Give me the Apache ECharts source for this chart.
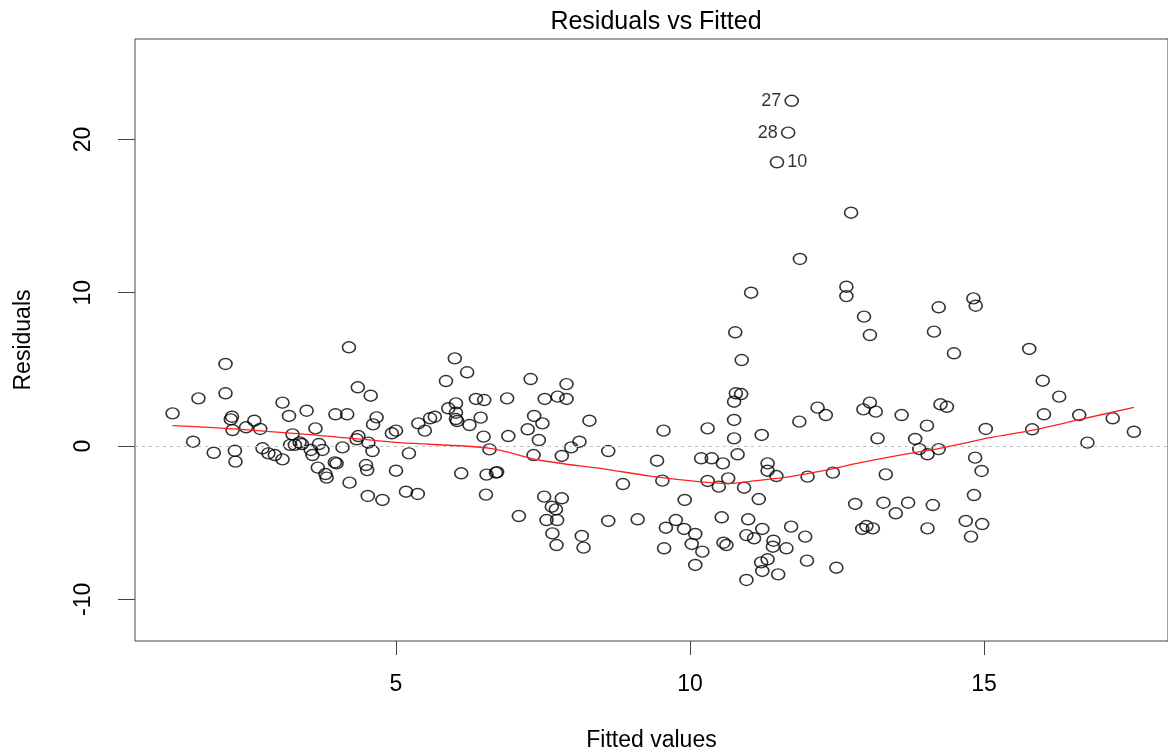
<!DOCTYPE html>
<html>
<head>
<meta charset="utf-8">
<script src="https://cdn.jsdelivr.net/npm/echarts@6/dist/echarts.min.js"></script>
<style>
html,body{margin:0;padding:0;background:#fff;}
#chart{width:1168px;height:754px;}
</style>
</head>
<body>
<div id="chart"></div>
<script>
// ---- data ----
const fittedValues = [
1.20,1.55,1.64,1.90,2.10,2.10,2.21,2.19,2.22,2.26,2.27,2.45,2.59,2.69,2.73,2.83,2.94,3.07,3.07,3.18,
3.24,3.20,3.28,3.36,3.40,3.48,3.55,3.58,3.69,3.75,3.63,3.67,3.80,3.82,3.96,3.99,3.97,4.17,4.09,4.20,
4.35,4.57,4.21,4.36,4.33,4.53,4.60,4.67,4.61,4.49,4.51,4.52,4.77,4.93,5.00,5.00,
5.22,5.38,5.49,5.58,5.66,6.00,6.21,5.85,5.89,6.02,6.02,6.02,6.04,6.25,6.36,6.50,6.44,6.49,6.59,6.89,
6.91,7.29,7.35,7.24,7.49,7.43,7.34,7.53,7.75,7.90,7.90,7.82,7.98,8.12,8.29,8.61,
6.11,6.54,6.70,6.72,5.17,5.37,6.53,7.09,7.52,7.82,7.65,7.72,7.56,7.74,7.66,7.73,8.16,8.19,8.61,9.11,8.86,
11.04,12.66,12.66,12.96,13.06,10.77,10.88,10.78,10.87,10.75,10.75,10.75,9.55,10.30,11.22,11.86,12.17,12.31,13.06,12.95,
13.16,13.19,13.60,
9.44,9.53,10.19,10.37,10.56,10.81,10.30,10.49,10.65,10.92,9.91,11.32,11.32,11.47,11.17,12.00,12.43,13.33,12.81,13.29,
13.50,9.76,9.59,9.90,10.09,10.03,9.56,10.21,10.09,10.54,10.57,10.62,10.99,10.96,11.09,11.23,11.42,11.41,11.64,11.72,
11.96,11.99,11.32,11.21,11.23,11.50,10.96,12.49,12.93,13.00,13.11,
14.82,14.86,14.23,14.15,14.49,15.77,16.00,16.28,14.26,14.37,14.03,15.03,15.82,16.02,16.62,17.19,17.55,
13.83,13.90,14.04,14.23,16.76,14.85,14.96,14.83,13.71,14.13,14.04,14.69,14.97,14.78,
12.74,11.87
];
const residualValues = [
2.13,0.28,3.11,-0.44,5.35,3.44,1.91,1.74,1.04,-0.31,-1.02,1.22,1.65,1.11,-0.15,-0.48,-0.59,-0.87,2.83,1.96,
0.76,0.07,0.07,0.24,0.13,2.30,-0.26,-0.59,0.13,-0.26,1.15,-1.41,-1.83,-2.06,-1.07,-1.13,2.07,2.07,-0.09,6.44,
3.83,3.28,-2.39,0.65,0.44,0.22,-0.33,1.87,1.41,-1.24,-1.57,-3.26,-3.52,0.83,1.00,-1.61,
-0.48,1.48,1.00,1.81,1.91,5.72,4.81,4.24,2.46,2.78,2.17,1.76,1.63,1.37,3.07,3.00,1.85,0.61,-0.22,3.11,
0.65,4.37,1.96,1.09,1.48,0.39,-0.59,3.07,3.22,3.07,4.04,-0.65,-0.09,0.28,1.65,-0.33,
-1.78,-1.87,-1.74,-1.70,-2.98,-3.13,-3.17,-4.57,-3.30,-3.41,-3.96,-4.13,-4.83,-4.83,-5.70,-6.46,-5.87,-6.63,-4.89,-4.78,-2.48,
10.00,10.39,9.78,8.44,7.24,7.42,5.61,3.44,3.39,2.89,1.70,0.50,1.00,1.15,0.72,1.59,2.50,2.02,2.83,2.39,
2.24,0.50,2.02,
-0.96,-2.26,-0.80,-0.80,-1.13,-0.54,-2.28,-2.65,-2.11,-2.72,-3.52,-1.13,-1.61,-1.96,-3.46,-2.00,-1.74,-1.85,-3.78,-3.70,
-4.39,-4.83,-5.33,-5.41,-5.74,-6.39,-6.67,-6.89,-7.76,-4.65,-6.31,-6.46,-4.78,-5.81,-6.02,-5.41,-6.18,-6.57,-6.67,-5.26,
-5.91,-7.48,-7.39,-7.59,-8.15,-8.37,-8.74,-7.94,-5.41,-5.22,-5.37,
9.63,9.15,9.05,7.46,6.05,6.33,4.26,3.22,2.72,2.56,1.33,1.11,1.09,2.07,2.02,1.81,0.93,
0.46,-0.20,-0.54,-0.20,0.22,-0.76,-1.63,-3.20,-3.70,-3.85,-5.37,-4.89,-5.09,-5.91,
15.22,12.20
];
const outlierIds = ['27', '28', '10'];
const outlierFitted = [11.73, 11.67, 11.48];
const outlierResidual = [22.52, 20.44, 18.51];

const smoothFitted = [1.20,2.35,3.48,5.07,6.60,7.45,8.58,9.32,10.28,10.68,11.13,11.70,12.27,12.84,13.57,14.25,15.10,15.83,16.60,17.55];
const smoothResidual = [1.33,1.09,0.76,0.22,-0.15,-0.93,-1.52,-1.96,-2.37,-2.44,-2.26,-2.00,-1.61,-1.13,-0.59,-0.15,0.54,1.04,1.70,2.52];

const xTickValues = [5, 10, 15];
const yTickValues = [-10, 0, 10, 20];

const titleText = 'Residuals vs Fitted';
const xTitle = 'Fitted values';
const yTitle = 'Residuals';

// ---- chart ----
const FONT = '"Liberation Sans", Arial, Helvetica, sans-serif';
const points = fittedValues.map((x, i) => [x, residualValues[i]]);
const outlierPoints = outlierFitted.map((x, i) => ({
  value: [x, outlierResidual[i]],
  name: outlierIds[i],
  label: { position: i < 2 ? 'left' : 'right' }
}));
const smoothPoints = smoothFitted.map((x, i) => [x, smoothResidual[i]]);

const circleStyle = {
  color: 'rgba(0,0,0,0)',
  borderColor: '#000',
  borderWidth: 1.5
};

const chart = echarts.init(document.getElementById('chart'), null, { renderer: 'canvas' });
chart.setOption({
  animation: false,
  backgroundColor: '#fff',
  title: {
    text: titleText,
    left: 651,
    textAlign: 'center',
    top: 5,
    textStyle: { fontFamily: FONT, fontSize: 25, fontWeight: 'normal', color: '#000' }
  },
  grid: {
    left: 135, top: 39, right: 0, bottom: 113,
    outerBoundsMode: 'none',
    containLabel: false,
    show: true, borderColor: '#444', borderWidth: 1, backgroundColor: 'rgba(0,0,0,0)'
  },
  xAxis: {
    type: 'value',
    min: 0.561, max: 18.13,
    name: xTitle,
    nameLocation: 'middle',
    nameGap: 88,
    nameTextStyle: { fontFamily: FONT, fontSize: 23, color: '#000' },
    axisLine: { show: false, onZero: false },
    axisTick: { show: true, customValues: xTickValues, length: 14, lineStyle: { color: '#444', width: 1 } },
    axisLabel: { customValues: xTickValues, margin: 32, fontFamily: FONT, fontSize: 23, color: '#000' },
    splitLine: { show: false }
  },
  yAxis: {
    type: 'value',
    min: -12.72, max: 26.55,
    name: yTitle,
    nameLocation: 'middle',
    nameRotate: 90,
    nameGap: 100,
    nameTextStyle: { fontFamily: FONT, fontSize: 23, color: '#000' },
    axisLine: { show: false, onZero: false },
    axisTick: { show: true, customValues: yTickValues, length: 17, lineStyle: { color: '#444', width: 1 } },
    axisLabel: { customValues: yTickValues, rotate: 90, margin: 40, fontFamily: FONT, fontSize: 23, color: '#000' },
    splitLine: { show: false }
  },
  series: [
    {
      type: 'scatter',
      data: points,
      symbol: 'circle',
      symbolSize: [13, 11],
      itemStyle: circleStyle,
      markLine: {
        silent: true,
        symbol: ['none', 'none'],
        label: { show: false },
        lineStyle: { color: '#c0c0c0', type: [3, 4], width: 1.2 },
        data: [{ yAxis: 0 }]
      }
    },
    {
      type: 'scatter',
      data: outlierPoints,
      symbol: 'circle',
      symbolSize: [13, 11],
      itemStyle: circleStyle,
      label: {
        show: true,
        formatter: p => p.name,
        distance: 3,
        fontFamily: FONT,
        fontSize: 18,
        color: '#000'
      }
    },
    {
      type: 'line',
      data: smoothPoints,
      smooth: 0.3,
      symbol: 'none',
      lineStyle: { color: '#ff2020', width: 1.3 },
      z: 5
    }
  ]
});
</script>
</body>
</html>
